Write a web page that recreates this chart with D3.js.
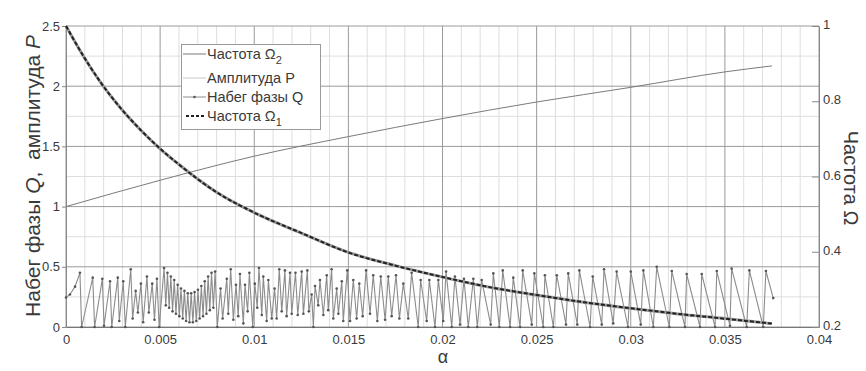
<!DOCTYPE html>
<html>
<head>
<meta charset="utf-8">
<script src="https://cdn.jsdelivr.net/npm/d3@7"></script>
<style>
    body { margin: 0; background: #fff; }
    text { font-family: "Liberation Sans", Arial, sans-serif; }
</style>
</head>
<body>
<script>
// Ticks
const alphaTicks = [0, 0.005, 0.01, 0.015, 0.02, 0.025, 0.03, 0.035, 0.04];
const leftTicks = [0, 0.5, 1, 1.5, 2, 2.5];
const rightTicks = [0.2, 0.4, 0.6, 0.8, 1];

// Amplitude P (left axis) and frequency Omega1 (right axis), same alpha grid
const pAlpha = [0, 0.001, 0.0018, 0.003, 0.004, 0.005, 0.006, 0.008, 0.01, 0.0125,
    0.015, 0.0175, 0.02, 0.0225, 0.025, 0.0275, 0.03, 0.0325, 0.035, 0.0375];
const pValue = [2.5, 2.23, 2.04, 1.80, 1.63, 1.48, 1.35, 1.12, 0.95, 0.78,
    0.62, 0.51, 0.415, 0.33, 0.266, 0.205, 0.155, 0.108, 0.07, 0.028];
const omega1Value = [1.0, 0.914, 0.853, 0.776, 0.722, 0.674, 0.632, 0.558, 0.504, 0.450,
    0.398, 0.363, 0.333, 0.306, 0.285, 0.266, 0.250, 0.235, 0.222, 0.209];

// Frequency Omega2 (right axis)
const omega2Alpha = [0, 0.005, 0.01, 0.015, 0.02, 0.025, 0.03, 0.035, 0.0375];
const omega2Value = [0.52, 0.590, 0.654, 0.706, 0.754, 0.798, 0.837, 0.878, 0.894];

// Phase advance Q (left axis), peaks and troughs of the zigzag
const qAlpha = [
    0, 0.00021, 0.00048, 0.00074, 0.00083, 0.00142, 0.00152, 0.00193, 0.00202, 0.00234,
    0.00243, 0.00275, 0.00283, 0.00304, 0.00315, 0.00344, 0.00354, 0.00370, 0.00382, 0.00398,
    0.00410, 0.00430, 0.00440, 0.00458, 0.00470, 0.00483, 0.00495,
    0.00521, 0.00530, 0.00539, 0.00548, 0.00557, 0.00566, 0.00575, 0.00584, 0.00593, 0.00602,
    0.00611, 0.00620, 0.00629, 0.00638, 0.00647, 0.00656, 0.00665, 0.00674, 0.00683, 0.00692,
    0.00701, 0.00710, 0.00719, 0.00728, 0.00737, 0.00746, 0.00755, 0.00764, 0.00773, 0.00783,
    0.00792, 0.00804,
    0.00821, 0.00832, 0.00854, 0.00862, 0.00875, 0.00889, 0.00903, 0.00915, 0.00924, 0.00942,
    0.00951, 0.00965, 0.00974, 0.00992, 0.01003, 0.01016, 0.01025, 0.01040, 0.01048, 0.01066,
    0.01075, 0.01093, 0.01108, 0.01119, 0.01133, 0.01146, 0.01163, 0.01172, 0.01190, 0.01199,
    0.01219, 0.01231, 0.01252, 0.01261, 0.01282, 0.01290, 0.01305, 0.01314, 0.01323, 0.01340,
    0.01349, 0.01367, 0.01385, 0.01393, 0.01411, 0.01420, 0.01438, 0.01447, 0.01465, 0.01473,
    0.01494, 0.01509, 0.01526, 0.01544, 0.01558, 0.01576, 0.01594, 0.01615, 0.01632, 0.01654,
    0.01672, 0.01695, 0.01712, 0.01730, 0.01753, 0.01771, 0.01792, 0.01818, 0.01836, 0.01871,
    0.01884, 0.01916, 0.01930, 0.01960, 0.01978, 0.02004, 0.02019, 0.02049, 0.02066, 0.02093,
    0.02114, 0.02137, 0.02164, 0.02185, 0.02208,
    0.02256, 0.02270, 0.02302, 0.02320, 0.02359, 0.02376, 0.02412, 0.02426, 0.02474, 0.02488,
    0.02535, 0.02544, 0.02589, 0.02607, 0.02656, 0.02668, 0.02716, 0.02727, 0.02784, 0.02798,
    0.02846, 0.02858, 0.02907, 0.02925, 0.02985, 0.03000,
    0.03053, 0.03067, 0.03120, 0.03138, 0.03205, 0.03218, 0.03288, 0.03297, 0.03368, 0.03377,
    0.03448, 0.03457, 0.03527, 0.03536, 0.03616, 0.03630, 0.03704, 0.03718, 0.03757
];
const qValue = [
    0.245, 0.27, 0.335, 0.45, 0, 0.41, 0, 0.40, 0.01, 0.38,
    0, 0.41, 0.05, 0.38, 0, 0.48, 0.07, 0.30, 0.12, 0.36,
    0.04, 0.42, 0.12, 0.36, 0.06, 0.40, 0,
    0.49, 0.18, 0.45, 0.16, 0.42, 0.13, 0.39, 0.11, 0.35, 0.09,
    0.32, 0.07, 0.30, 0.05, 0.28, 0.04, 0.28, 0.04, 0.29, 0.05,
    0.31, 0.07, 0.34, 0.09, 0.38, 0.11, 0.42, 0.14, 0.45, 0.16,
    0.46, 0,
    0.32, 0.07, 0.40, 0.11, 0.48, 0.06, 0.35, 0.09, 0.44, 0.03,
    0.35, 0.13, 0.45, 0, 0.36, 0.16, 0.49, 0.10, 0.42, 0.05,
    0.39, 0.07, 0.32, 0.07, 0.48, 0.13, 0.47, 0.09, 0.45, 0.11,
    0.45, 0.10, 0.46, 0.11, 0.47, 0.13, 0.27, 0, 0.34, 0.18,
    0.39, 0.10, 0.43, 0.14, 0.48, 0.07, 0.32, 0.11, 0.38, 0.05,
    0.47, 0.05, 0.39, 0.07, 0.36, 0.09, 0.47, 0.11, 0.43, 0.05,
    0.42, 0.06, 0.42, 0.09, 0.43, 0.07, 0.36, 0.07, 0.45, 0,
    0.39, 0.05, 0.39, 0, 0.39, 0.05, 0.46, 0, 0.42, 0.02,
    0.40, 0, 0.40, 0, 0.39,
    0.02, 0.445, 0, 0.47, 0, 0.41, 0, 0.47, 0.02, 0.445,
    0, 0.43, 0, 0.43, 0.02, 0.445, 0.02, 0.47, 0, 0.42,
    0.02, 0.48, 0.03, 0.46, 0, 0.46,
    0.02, 0.47, 0, 0.50, 0, 0.465, 0, 0.44, 0, 0.44,
    0, 0.465, 0.01, 0.485, 0, 0.47, 0, 0.465, 0.24
];

const width = 866, height = 371;
const plot = {left: 66, right: 819, top: 26, bottom: 327};
const labelColor = "#3a3a3a";
const fontFamily = '"Liberation Sans", Arial, sans-serif';

const svg = d3.select("body").append("svg")
    .attr("width", width)
    .attr("height", height);

const x = d3.scaleLinear().domain([0, 0.04]).range([plot.left, plot.right]);
const yLeft = d3.scaleLinear().domain([0, 2.5]).range([plot.bottom, plot.top]);
const yRight = d3.scaleLinear().domain([0.2, 1]).range([plot.bottom, plot.top]);

// ****************** grid ***************************
const grid = svg.append("g");

grid.selectAll("line.minor-x")
    .data(d3.range(1, 40).filter(i => i % 5 !== 0).map(i => i / 1000))
    .join("line")
    .attr("x1", d => x(d)).attr("x2", d => x(d))
    .attr("y1", plot.top).attr("y2", plot.bottom)
    .attr("stroke", "#dedede").attr("stroke-width", 1);

grid.selectAll("line.minor-y")
    .data(d3.range(1, 10).filter(i => i % 2 !== 0).map(i => i / 4))
    .join("line")
    .attr("x1", plot.left).attr("x2", plot.right)
    .attr("y1", d => yLeft(d)).attr("y2", d => yLeft(d))
    .attr("stroke", "#dedede").attr("stroke-width", 1);

grid.selectAll("line.major-x")
    .data(alphaTicks)
    .join("line")
    .attr("x1", d => x(d)).attr("x2", d => x(d))
    .attr("y1", plot.top).attr("y2", plot.bottom)
    .attr("stroke", "#9a9a9a").attr("stroke-width", 1);

grid.selectAll("line.major-y")
    .data(leftTicks)
    .join("line")
    .attr("x1", plot.left).attr("x2", plot.right)
    .attr("y1", d => yLeft(d)).attr("y2", d => yLeft(d))
    .attr("stroke", "#9a9a9a").attr("stroke-width", 1);

// ****************** axes ***************************
function styleLabels(g) {
    g.selectAll("text").attr("fill", labelColor)
        .style("font-size", "13px").style("font-family", fontFamily);
}

svg.append("g")
    .attr("transform", "translate(0," + plot.bottom + ")")
    .call(d3.axisBottom(x).tickValues(alphaTicks).tickSize(0).tickPadding(8)
        .tickFormat(d => String(+d.toFixed(3))))
    .call(g => g.select(".domain").attr("stroke", "#777"))
    .call(styleLabels);

svg.append("g")
    .attr("transform", "translate(" + plot.left + ",0)")
    .call(d3.axisLeft(yLeft).tickValues(leftTicks).tickSize(4).tickPadding(2)
        .tickFormat(d => String(d)))
    .call(g => g.select(".domain").attr("stroke", "#888"))
    .call(g => g.selectAll("line").attr("stroke", "#888"))
    .call(styleLabels);

svg.append("g")
    .attr("transform", "translate(" + plot.right + ",0)")
    .call(d3.axisRight(yRight).tickValues(rightTicks).tickSizeInner(-7).tickSizeOuter(0).tickPadding(4)
        .tickFormat(d => String(d)))
    .call(g => g.select(".domain").attr("stroke", "#888"))
    .call(g => g.selectAll("line").attr("stroke", "#888"))
    .call(styleLabels)
    .call(g => g.selectAll("text").attr("dy", "0.2em"));

// Axis titles
const leftTitle = svg.append("text")
    .attr("transform", "translate(40,176) rotate(-90)")
    .attr("text-anchor", "middle")
    .attr("fill", labelColor)
    .style("font-size", "21px");
leftTitle.append("tspan").text("Набег фазы ");
leftTitle.append("tspan").style("font-style", "italic").text("Q");
leftTitle.append("tspan").attr("xml:space", "preserve").text(",  амплитуда ");
leftTitle.append("tspan").style("font-style", "italic").text("P");

svg.append("text")
    .attr("transform", "translate(844,178) rotate(90)")
    .attr("text-anchor", "middle")
    .attr("fill", labelColor)
    .style("font-size", "20px")
    .text("Частота Ω");

svg.append("text")
    .attr("x", 443).attr("y", 363)
    .attr("text-anchor", "middle")
    .attr("fill", labelColor)
    .style("font-size", "18px")
    .text("α");

// ****************** series ***************************
const qData = d3.zip(qAlpha, qValue);
const pData = d3.zip(pAlpha, pValue);
const omega1Data = d3.zip(pAlpha, omega1Value);
const omega2Data = d3.zip(omega2Alpha, omega2Value);

const lineLeft = d3.line().x(d => x(d[0])).y(d => yLeft(d[1]));
const smoothLeft = d3.line().x(d => x(d[0])).y(d => yLeft(d[1])).curve(d3.curveMonotoneX);
const smoothRight = d3.line().x(d => x(d[0])).y(d => yRight(d[1])).curve(d3.curveMonotoneX);

// Phase advance Q
svg.append("path")
    .attr("d", lineLeft(qData))
    .attr("fill", "none")
    .attr("stroke", "#8c8c8c")
    .attr("stroke-width", 1.1);

svg.append("g").selectAll("circle")
    .data(qData)
    .join("circle")
    .attr("cx", d => x(d[0]))
    .attr("cy", d => yLeft(d[1]))
    .attr("r", 1.3)
    .attr("fill", "#555");

// Frequency Omega2
svg.append("path")
    .attr("d", smoothRight(omega2Data))
    .attr("fill", "none")
    .attr("stroke", "#7a7a7a")
    .attr("stroke-width", 1);

// Amplitude P
svg.append("path")
    .attr("d", smoothLeft(pData))
    .attr("fill", "none")
    .attr("stroke", "#9a9a9a")
    .attr("stroke-width", 3);

// Frequency Omega1
svg.append("path")
    .attr("d", smoothRight(omega1Data))
    .attr("fill", "none")
    .attr("stroke", "#222")
    .attr("stroke-width", 2)
    .attr("stroke-dasharray", "4,2");

// ****************** legend ***************************
const legend = svg.append("g");

legend.append("rect")
    .attr("x", 181.5).attr("y", 44.5)
    .attr("width", 139).attr("height", 85)
    .attr("fill", "#fff")
    .attr("stroke", "#9a9a9a");

const legendItems = [
    {label: "Частота Ω", sub: "2", y: 54, stroke: "#7a7a7a", dash: null, width: 1, dot: false},
    {label: "Амплитуда P", sub: null, y: 78, stroke: "#c8c8c8", dash: null, width: 1, dot: false},
    {label: "Набег фазы Q", sub: null, y: 97, stroke: "#8c8c8c", dash: null, width: 1, dot: true},
    {label: "Частота Ω", sub: "1", y: 116, stroke: "#222", dash: "3,2", width: 2, dot: false}
];

legendItems.forEach(function (item) {
    legend.append("line")
        .attr("x1", item.dash ? 186 : 183).attr("x2", 206)
        .attr("y1", item.y).attr("y2", item.y)
        .attr("stroke", item.stroke)
        .attr("stroke-width", item.width)
        .attr("stroke-dasharray", item.dash);
    if (item.dot) {
        legend.append("circle")
            .attr("cx", 194.5).attr("cy", item.y).attr("r", 1.3).attr("fill", "#555");
    }
    const t = legend.append("text")
        .attr("x", 207).attr("y", item.y + 5)
        .attr("fill", labelColor)
        .style("font-size", "14.5px");
    t.append("tspan").text(item.label);
    if (item.sub) {
        t.append("tspan").attr("dy", 5).style("font-size", "11px").text(item.sub);
    }
});
</script>
</body>
</html>
